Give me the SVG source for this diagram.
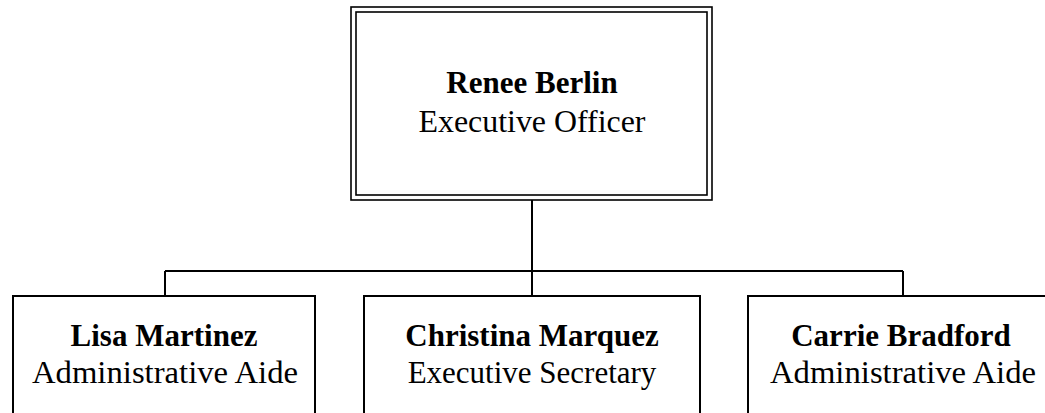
<svg xmlns="http://www.w3.org/2000/svg" width="1045" height="413" viewBox="0 0 1045 413">
<style>
.box{fill:#fff;stroke:#000;stroke-width:2}
.thin{fill:none;stroke:#000;stroke-width:1.6}
.con{fill:none;stroke:#000;stroke-width:2}
text{font-family:"Liberation Serif","Times New Roman",serif;font-size:31px;fill:#000;text-anchor:middle}
.name{font-weight:bold}
</style>
<rect width="1045" height="413" fill="#fff"/>
<g id="connectors">
<path class="con" d="M532 200V296M165 271H903M165 271V296M903 271V296"/>
</g>
<g id="renee">
<rect class="thin" x="351" y="7" width="361" height="193"/>
<rect class="thin" x="356" y="12" width="351" height="183"/>
<text class="name" x="532" y="93">Renee Berlin</text>
<text x="532" y="132" textLength="227" lengthAdjust="spacingAndGlyphs">Executive Officer</text>
</g>
<g id="lisa">
<rect class="box" x="13" y="296" width="302" height="130"/>
<text class="name" x="164" y="346">Lisa Martinez</text>
<text x="165" y="383" textLength="266" lengthAdjust="spacingAndGlyphs">Administrative Aide</text>
</g>
<g id="christina">
<rect class="box" x="364" y="296" width="336" height="130"/>
<text class="name" x="532" y="346">Christina Marquez</text>
<text x="532" y="383">Executive Secretary</text>
</g>
<g id="carrie">
<rect class="box" x="748" y="296" width="310" height="130"/>
<text class="name" x="901" y="346">Carrie Bradford</text>
<text x="903" y="383" textLength="266" lengthAdjust="spacingAndGlyphs">Administrative Aide</text>
</g>
</svg>
